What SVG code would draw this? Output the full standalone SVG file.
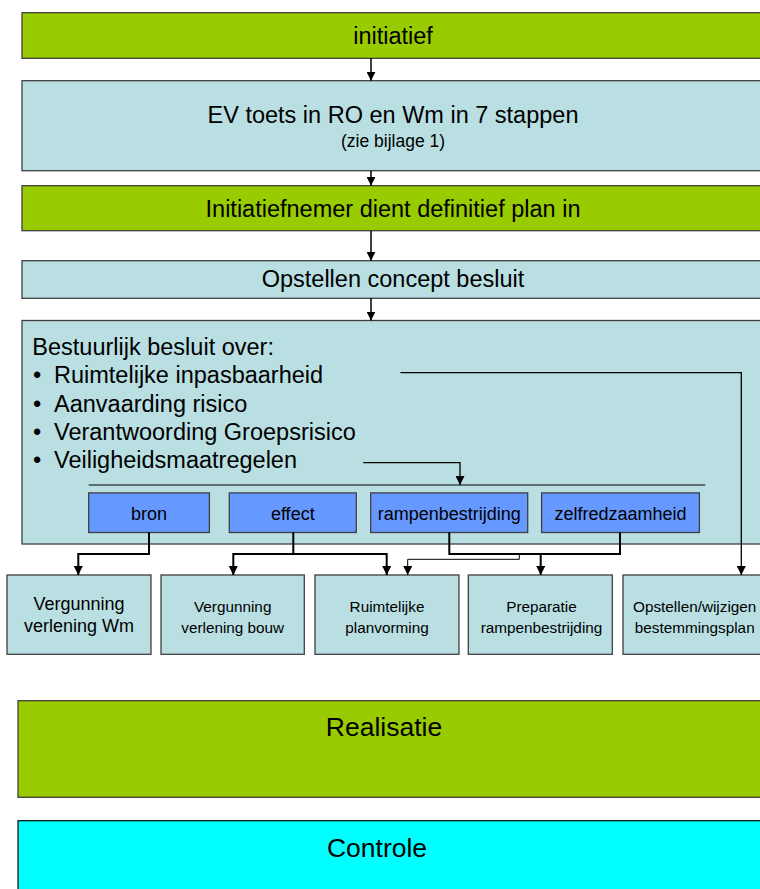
<svg xmlns="http://www.w3.org/2000/svg" width="760" height="889" viewBox="0 0 760 889">
<style>
  text { font-family: "Liberation Sans", Arial, sans-serif; fill: #000; }
  .green { fill: #99CC00; stroke: #3f3f3f; stroke-width: 1.3; }
  .lb { fill: #B9DFE3; stroke: #3f3f3f; stroke-width: 1.3; }
  .blue { fill: #6699FF; stroke: #3f3f3f; stroke-width: 1.3; }
  .cyan { fill: #00FFFF; stroke: #1a1a1a; stroke-width: 1.3; }
  .big { font-size: 23.5px; }
  .mid { font-size: 18px; }
  .sm { font-size: 15.3px; }
  .xl { font-size: 26.5px; }
  .c { text-anchor: middle; }
  .flow { fill: none; stroke: #000; stroke-width: 1.5; marker-end: url(#ah); }
  .thick { fill: none; stroke: #000; stroke-width: 2; }
  .thickA { fill: none; stroke: #000; stroke-width: 2; marker-end: url(#ah); }
  .thin { fill: none; stroke: #000; stroke-width: 1; }
  .thinA { fill: none; stroke: #000; stroke-width: 1; marker-end: url(#ah); }
  .med { fill: none; stroke: #000; stroke-width: 1.3; marker-end: url(#ah); }
</style>
<defs>
  <marker id="ah" viewBox="0 0 10 10" refX="10" refY="5" markerWidth="9" markerHeight="9" markerUnits="userSpaceOnUse" orient="auto">
    <path d="M0,0 L10,5 L0,10 z" fill="#000"/>
  </marker>
</defs>
<rect width="760" height="889" fill="#fff"/>

<g id="initiatief">
  <rect class="green" x="22" y="12.7" width="742" height="45.6"/>
  <text class="big c" x="393" y="44">initiatief</text>
</g>
<g id="ev-toets">
  <rect class="lb" x="22" y="80.7" width="742" height="90"/>
  <text class="big c" x="393" y="123.3">EV toets in RO en Wm in 7 stappen</text>
  <text class="c" style="font-size:17.5px" x="393" y="146.7">(zie bijlage 1)</text>
</g>
<g id="initiatiefnemer">
  <rect class="green" x="22" y="185.7" width="742" height="45"/>
  <text class="big c" x="393" y="216.7">Initiatiefnemer dient definitief plan in</text>
</g>
<g id="opstellen-concept">
  <rect class="lb" x="22" y="260.7" width="742" height="37.6"/>
  <text class="big c" x="393" y="286.7">Opstellen concept besluit</text>
</g>
<g id="bestuurlijk-besluit">
  <rect class="lb" x="22" y="320.5" width="742" height="223.5"/>
  <text class="big" x="32.3" y="355">Bestuurlijk besluit over:</text>
  <text class="big" x="33" y="383.3">•</text>
  <text class="big" x="54" y="383.3">Ruimtelijke inpasbaarheid</text>
  <text class="big" x="33" y="411.7">•</text>
  <text class="big" x="54" y="411.7">Aanvaarding risico</text>
  <text class="big" x="33" y="440">•</text>
  <text class="big" x="54" y="440">Verantwoording Groepsrisico</text>
  <text class="big" x="33" y="468.3">•</text>
  <text class="big" x="54" y="468.3">Veiligheidsmaatregelen</text>
  <line class="thin" x1="88.7" y1="485" x2="705.3" y2="485"/>
</g>
<g id="bron">
  <rect class="blue" x="88.7" y="492.9" width="120.7" height="39.6"/>
  <text class="mid c" x="149" y="519.5">bron</text>
</g>
<g id="effect">
  <rect class="blue" x="229.3" y="492.9" width="127" height="39.6"/>
  <text class="mid c" x="292.8" y="519.5">effect</text>
</g>
<g id="rampenbestrijding">
  <rect class="blue" x="370.7" y="492.9" width="157" height="39.6"/>
  <text class="mid c" x="449.2" y="519.5">rampenbestrijding</text>
</g>
<g id="zelfredzaamheid">
  <rect class="blue" x="541.6" y="492.9" width="157.8" height="39.6"/>
  <text class="mid c" x="620.5" y="519.5">zelfredzaamheid</text>
</g>

<g id="vergunning-wm">
  <rect class="lb" x="7" y="575" width="144" height="79.3"/>
  <text class="mid c" x="79" y="610">Vergunning</text>
  <text class="mid c" x="79" y="632.3">verlening Wm</text>
</g>
<g id="vergunning-bouw">
  <rect class="lb" x="161" y="575" width="143.3" height="79.3"/>
  <text class="sm c" x="232.7" y="611.5">Vergunning</text>
  <text class="sm c" x="232.7" y="632.5">verlening bouw</text>
</g>
<g id="ruimtelijke-planvorming">
  <rect class="lb" x="315" y="575" width="144" height="79.3"/>
  <text class="sm c" x="387" y="611.5">Ruimtelijke</text>
  <text class="sm c" x="387" y="632.5">planvorming</text>
</g>
<g id="preparatie">
  <rect class="lb" x="468.3" y="575" width="144" height="79.3"/>
  <text class="sm c" x="541.5" y="611.5">Preparatie</text>
  <text class="sm c" x="541.5" y="632.5">rampenbestrijding</text>
</g>
<g id="bestemmingsplan">
  <rect class="lb" x="623" y="575" width="144" height="79.3"/>
  <text class="sm c" x="694.7" y="611.5">Opstellen/wijzigen</text>
  <text class="sm c" x="694.7" y="632.5">bestemmingsplan</text>
</g>

<g id="realisatie">
  <rect class="green" x="18" y="700.7" width="750" height="96.6"/>
  <text class="xl c" x="384" y="736">Realisatie</text>
</g>
<g id="controle">
  <rect class="cyan" x="18" y="820.7" width="750" height="80"/>
  <text class="xl c" x="377" y="856.7">Controle</text>
</g>

<g id="connectors">
  <path class="flow" d="M371,58.3 V80.7"/>
  <path class="flow" d="M371,170.7 V185.7"/>
  <path class="flow" d="M371,230.7 V260.7"/>
  <path class="flow" d="M371,298.3 V320.5"/>
  <path class="med" d="M400.4,372.7 H741.3 V575"/>
  <path class="med" d="M363.3,462.7 H460 V485"/>
  <path class="thickA" d="M149,532.5 V554 H78.3 V575"/>
  <path class="thickA" d="M293.3,532.5 V554 H233.3 V575"/>
  <path class="thickA" d="M293.3,554 H386.7 V575"/>
  <path class="thick" d="M449.3,532.5 V554 H620 V532.5"/>
  <path class="thickA" d="M540.7,554 V575"/>
  <path class="thinA" d="M519.3,554 V559.3 H407.7 V575"/>
</g>
</svg>
